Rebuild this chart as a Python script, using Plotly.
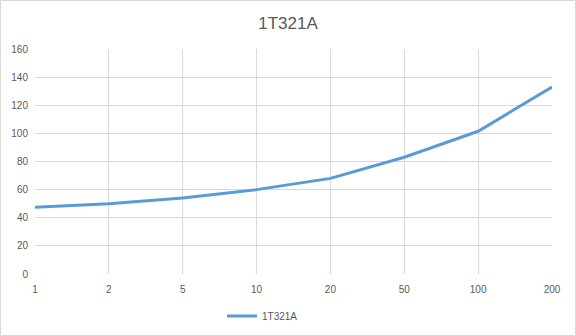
import plotly.graph_objects as go

categories = ["1", "2", "5", "10", "20", "50", "100", "200"]
values = [47.5, 50, 54, 60, 68, 83, 101.5, 133]
series_name = "1T321A"
title_text = "1T321A"

W, H = 576, 336
L, R, T, B = 35, 24, 49, 62
pw, ph = W - L - R, H - T - B

fig = go.Figure()
fig.add_trace(go.Scatter(x=categories, y=values, mode="lines", name=series_name,
                         line=dict(color="#5B9BD5", width=3)))

fig.update_layout(
    width=W, height=H,
    margin=dict(l=L, r=R, t=T, b=B, autoexpand=False),
    paper_bgcolor="white", plot_bgcolor="white",
    font=dict(family="Liberation Sans, Arial", color="#595959", size=10),
    title=dict(text=title_text, x=0.5, xanchor="center", yref="container", y=1 - 23 / H, yanchor="middle",
               font=dict(size=17, color="#595959")),
    showlegend=True,
    legend=dict(orientation="h", xref="container", x=222 / W, xanchor="left",
                yref="container", y=1 - 316 / H, yanchor="middle",
                font=dict(size=10, color="#595959")),
    xaxis=dict(type="category", range=[0, len(categories) - 1], showgrid=True, gridcolor="#D9D9D9",
               gridwidth=1, zeroline=False, showline=False, ticks="", tickfont=dict(size=10, color="#595959"),
               ticklabelstandoff=8),
    yaxis=dict(range=[0, 160], dtick=20, showgrid=True, gridcolor="#D9D9D9", gridwidth=1,
               zeroline=False, showline=False, ticks="", tickfont=dict(size=10, color="#595959"),
               ticklabelstandoff=6),
    shapes=[dict(type="rect", xref="paper", yref="paper",
                 x0=(0.5 - L) / pw, x1=(W - 0.5 - L) / pw,
                 y0=-(B - 0.5) / ph, y1=1 + (T - 0.5) / ph,
                 line=dict(color="#D9D9D9", width=1), fillcolor="rgba(0,0,0,0)", layer="below")],
)

fig.write_html("out.html")
